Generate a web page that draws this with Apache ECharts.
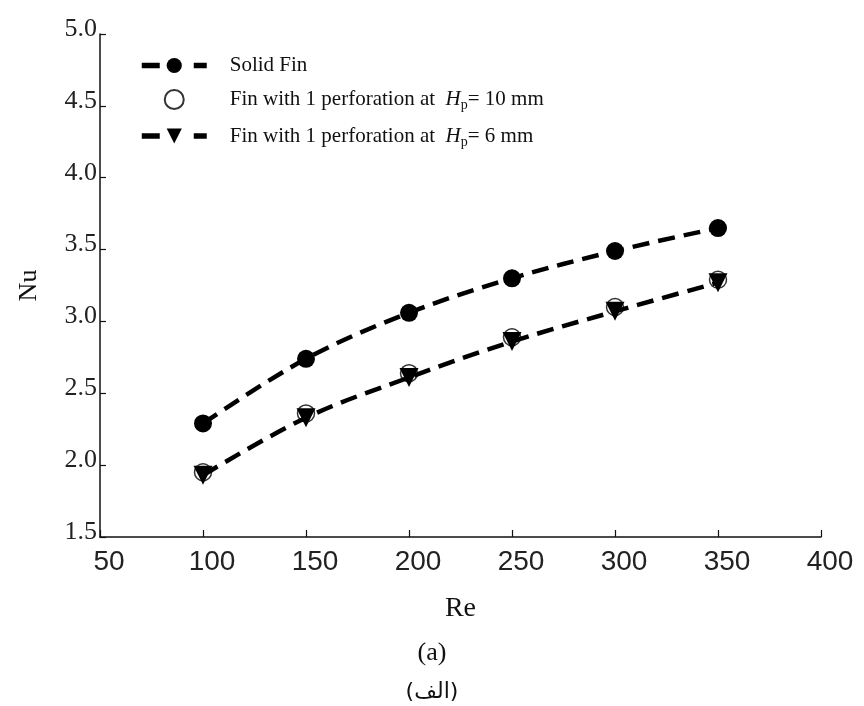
<!DOCTYPE html>
<html>
<head>
<meta charset="utf-8">
<script src="https://cdn.jsdelivr.net/npm/echarts@6/dist/echarts.min.js"></script>
<style>
html,body{margin:0;padding:0;background:#fff;}
#chart{width:864px;height:706px;}
</style>
</head>
<body>
<div id="chart"></div>
<script>
var reValues = [100, 150, 200, 250, 300, 350];
var solidFin = [2.29, 2.74, 3.06, 3.30, 3.49, 3.65];
var perf10mm = [1.95, 2.36, 2.64, 2.89, 3.10, 3.29];
var perf6mm = [1.93, 2.33, 2.61, 2.86, 3.07, 3.27];
var seriesNames = ['Solid Fin', 'Fin with 1 perforation at  Hp= 10 mm', 'Fin with 1 perforation at  Hp= 6 mm'];
var xTicks = [50, 100, 150, 200, 250, 300, 350, 400];
var yTicks = [1.5, 2.0, 2.5, 3.0, 3.5, 4.0, 4.5, 5.0];

function pairs(xs, ys) { return xs.map(function (x, i) { return [x, ys[i]]; }); }

var serif = 'Liberation Serif';
var dash = [17, 9];

var chart = echarts.init(document.getElementById('chart'), null, {renderer: 'canvas'});
chart.setOption({
  backgroundColor: '#fff',
  animation: false,
  grid: {left: 100, right: 43, top: 34, bottom: 169, containLabel: false},
  legend: {
    orient: 'vertical',
    left: 134,
    top: 50,
    itemWidth: 65,
    itemHeight: 19,
    itemGap: 13,
    data: seriesNames,
    lineStyle: {width: 5.5, type: [18, 34], color: '#000'},
    textStyle: {
      fontFamily: serif,
      fontSize: 21,
      color: '#111',
      padding: [0, 0, 0, 18],
      rich: {
        n: {fontFamily: serif, fontSize: 21, color: '#111'},
        h: {fontFamily: serif, fontSize: 21, fontStyle: 'italic', color: '#111'},
        s: {fontFamily: serif, fontSize: 14, color: '#111', padding: [12, 0, 0, 0]}
      }
    },
    formatter: function (name) {
      var i = name.indexOf('Hp');
      if (i < 0) return '{n|' + name + '}';
      return '{n|' + name.slice(0, i) + '}{h|H}{s|p}{n|' + name.slice(i + 2) + '}';
    }
  },
  xAxis: {
    type: 'value',
    min: xTicks[0],
    max: xTicks[xTicks.length - 1],
    interval: 50,
    name: 'Re',
    nameLocation: 'middle',
    nameGap: 58,
    nameTextStyle: {fontFamily: serif, fontSize: 28, color: '#111'},
    axisLine: {show: true, lineStyle: {color: '#111', width: 1.5}},
    axisTick: {show: true, inside: true, length: 7, lineStyle: {color: '#111', width: 1.2}},
    axisLabel: {fontFamily: 'Liberation Sans', fontSize: 28, color: '#222', margin: 11, padding: [0, 0, 0, 18]},
    splitLine: {show: false}
  },
  yAxis: {
    type: 'value',
    min: yTicks[0],
    max: yTicks[yTicks.length - 1],
    interval: 0.5,
    name: 'Nu',
    nameLocation: 'middle',
    nameGap: 58,
    nameRotate: 90,
    nameTextStyle: {fontFamily: serif, fontSize: 26, color: '#111'},
    axisLine: {show: true, lineStyle: {color: '#111', width: 1.5}},
    axisTick: {show: true, inside: true, length: 6, lineStyle: {color: '#111', width: 1.2}},
    axisLabel: {fontFamily: serif, fontSize: 26, color: '#222', margin: 3, verticalAlign: 'bottom', lineHeight: 10,
      formatter: function (v) { return v.toFixed(1); }},
    splitLine: {show: false}
  },
  series: [
    {
      name: seriesNames[0],
      type: 'line',
      data: pairs(reValues, solidFin),
      smooth: 0.35,
      symbol: 'circle',
      symbolSize: 18,
      itemStyle: {color: '#000'},
      lineStyle: {color: '#000', width: 4.5, type: dash}
    },
    {
      name: seriesNames[1],
      type: 'scatter',
      data: pairs(reValues, perf10mm),
      symbol: 'circle',
      symbolSize: 17,
      itemStyle: {color: '#fff', borderColor: '#000', borderWidth: 1.5}
    },
    {
      name: seriesNames[2],
      type: 'line',
      data: pairs(reValues, perf6mm),
      smooth: 0.35,
      symbol: 'triangle',
      symbolRotate: 180,
      symbolSize: 19,
      itemStyle: {color: '#000'},
      lineStyle: {color: '#000', width: 4.5, type: dash}
    }
  ],
  graphic: [
    {type: 'text', left: 'center', top: 640, style: {text: '(a)', font: '26px "Liberation Serif"', fill: '#111'}},
    {type: 'text', left: 'center', top: 681, style: {text: '(الف)', font: '22px "DejaVu Sans"', fill: '#111'}}
  ]
});
</script>
</body>
</html>
